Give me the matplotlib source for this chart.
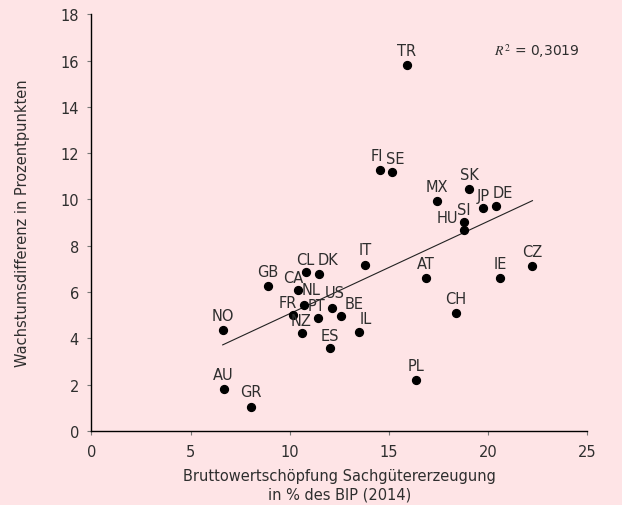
import matplotlib
matplotlib.use('Agg')
import matplotlib.pyplot as plt
import numpy as np

# country codes and values
countries = ['TR', 'FI', 'SE', 'MX', 'SK', 'JP', 'DE', 'SI', 'HU', 'IT', 'CZ', 'AT',
             'IE', 'CL', 'DK', 'GB', 'CA', 'NL', 'US', 'FR', 'PT', 'BE', 'CH', 'NO',
             'NZ', 'IL', 'ES', 'PL', 'AU', 'GR']
manuf_share = [15.89, 14.56, 15.18, 17.43, 19.06, 19.75, 20.42, 18.78, 18.78, 13.82,
               22.24, 16.86, 20.62, 10.83, 11.46, 8.89, 10.40, 10.72, 12.13, 10.18,
               11.41, 12.61, 18.39, 6.62, 10.63, 13.50, 12.04, 16.36, 6.67, 8.06]
growth_diff = [15.81, 11.26, 11.19, 9.95, 10.47, 9.62, 9.71, 9.04, 8.70, 7.19,
               7.14, 6.61, 6.60, 6.89, 6.79, 6.26, 6.10, 5.44, 5.32, 5.03,
               4.89, 4.99, 5.09, 4.38, 4.24, 4.27, 3.59, 2.21, 1.82, 1.06]
r2_text = '0,3019'

# label offsets in points (dx, dy) relative to each dot
label_offset = {'FI': (-2, 11), 'SE': (2, 10), 'DE': (5, 10), 'HU': (-12, 9),
                'SI': (0, 9), 'JP': (0, 9), 'CL': (-1, 9), 'DK': (7, 10),
                'CA': (-3, 9), 'NL': (5, 11), 'US': (2, 11), 'FR': (-4, 9),
                'PT': (-1, 9), 'BE': (9, 9), 'NZ': (-1, 9), 'IL': (5, 10),
                'ES': (0, 9)}

bg = '#fee4e6'
txt = '#2e2e2e'
plt.rcParams['font.family'] = ['DejaVu Sans']
plt.rcParams['mathtext.fontset'] = 'stix'

fig, ax = plt.subplots(figsize=(6.22, 5.06), dpi=100)
fig.patch.set_facecolor(bg)
ax.set_facecolor(bg)
fig.subplots_adjust(left=0.147, right=0.944, top=0.970, bottom=0.146)

ax.scatter(manuf_share, growth_diff, s=32, color='black', zorder=3)

slope, icpt = np.polyfit(manuf_share, growth_diff, 1)
xl = np.array([min(manuf_share), max(manuf_share)])
ax.plot(xl, slope * xl + icpt, color='#222222', lw=0.8, zorder=2)

for c, x, y in zip(countries, manuf_share, growth_diff):
    dx, dy = label_offset.get(c, (0, 10.5))
    ax.annotate(c, (x, y), xytext=(dx, dy), textcoords='offset points',
                ha='center', va='center', fontsize=10.5, color=txt)

ax.text(0.812, 0.915, '$R^2$ = ' + r2_text, transform=ax.transAxes,
        fontsize=10, color=txt, ha='left', va='center')

ax.set_xlim(0, 25)
ax.set_ylim(0, 18)
ax.set_xticks(range(0, 26, 5))
ax.set_yticks(range(0, 19, 2))
ax.spines['top'].set_visible(False)
ax.spines['right'].set_visible(False)
ax.spines['left'].set_linewidth(1.0)
ax.spines['bottom'].set_linewidth(1.0)
ax.tick_params(axis='both', direction='out', length=3, width=0.8, color='#777777',
               labelsize=10.5, labelcolor=txt, pad=6)

ax.set_xlabel('Bruttowertschöpfung Sachgütererzeugung\nin % des BIP (2014)',
              fontsize=10.5, color=txt, labelpad=7, linespacing=1.25)
ax.set_ylabel('Wachstumsdifferenz in Prozentpunkten', fontsize=10.5, color=txt,
              labelpad=22)

fig.savefig('out.png', dpi=100, facecolor=bg)
